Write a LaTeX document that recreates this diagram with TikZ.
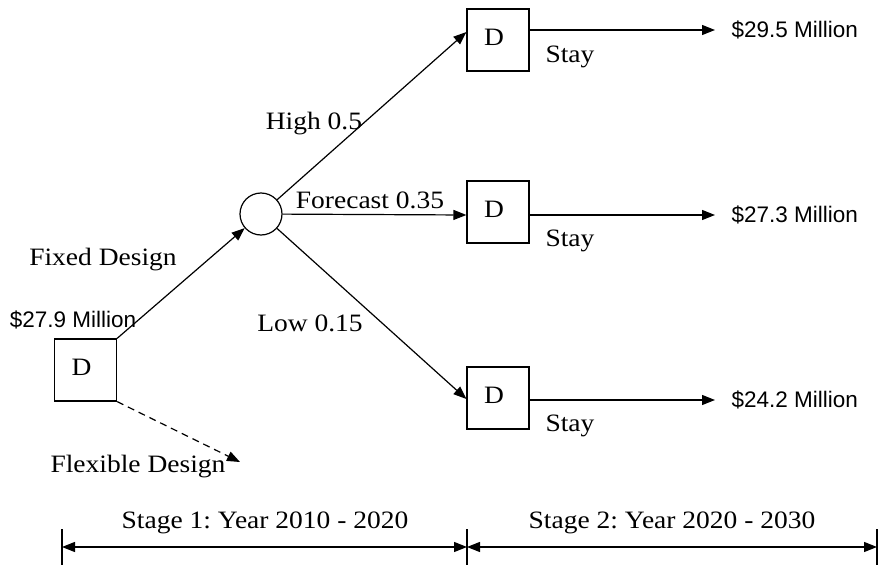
\documentclass[tikz,border=0pt]{standalone}
\usepackage{fontspec}
\setmainfont[FakeStretch=1.1]{Liberation Serif}
\newfontfamily\arialf{Liberation Sans}
\usetikzlibrary{arrows.meta}
\frenchspacing
\begin{document}
\begin{tikzpicture}[x=1pt,y=-1pt,
  line width=1.2pt,
  tip/.style={-{Triangle[length=13pt,width=10pt]}},
  dbox/.style={draw,minimum width=62pt,minimum height=62pt,inner sep=0pt,
    label={[lbl,xshift=-4pt,yshift=3pt]center:D}},
  chance/.style={draw,circle,minimum size=42pt,inner sep=0pt},
  lbl/.style={inner sep=0pt,font=\fontsize{25}{30}\selectfont},
  val/.style={inner sep=0pt,inner xsep=16pt,anchor=west,font=\arialf\fontsize{22.5}{27}\selectfont}]
\useasboundingbox (0,0) rectangle (879,586);
% nodes
\node[dbox] (d0) at (85.5,370) {};
\node[chance] (c) at (261,214) {};
\node[dbox] (t1) at (498,40) {};
\node[dbox] (t2) at (498,212) {};
\node[dbox] (t3) at (498,398) {};
\node[val] (v1) at (715,30) {\$29.5 Million};
\node[val] (v2) at (715,215) {\$27.3 Million};
\node[val] (v3) at (715,400) {\$24.2 Million};
\coordinate (flex) at (240,462);
% labels
\node[val,anchor=center,inner xsep=0pt] (m0) at (73,320) {\$27.9 Million};
\node[lbl] (lfix) at (103,260) {Fixed Design};
\node[lbl] (lflex) at (138,467) {Flexible Design};
\node[lbl] (lhigh) at (314,124) {High 0.5};
\node[lbl] (lfor) at (370,200) {Forecast 0.35};
\node[lbl] (llow) at (310,323) {Low 0.15};
\node[lbl] (s1) at (570,57) {Stay};
\node[lbl] (s2) at (570,241) {Stay};
\node[lbl] (s3) at (570,426) {Stay};
% connectors
\draw[tip] (d0.north east) -- (c);
\draw[tip,dashed,dash pattern=on 7pt off 5pt] (d0.south east) -- (flex);
\draw[tip] (c) -- ([yshift=8pt]t1.west);
\draw[tip] (c) -- (t2.west |- v2.west);
\draw[tip] (c) -- ([yshift=-1pt]t3.west);
\draw[tip] (t1.east |- v1.west) -- (v1.west);
\draw[tip] (t2.east |- v2.west) -- (v2.west);
\draw[tip] (t3.east |- v3.west) -- (v3.west);
% timeline
\coordinate (a0) at (62,547);
\coordinate (a1) at (467,547);
\coordinate (a2) at (877,547);
\foreach \p in {a0,a1,a2}{\draw ([yshift=18pt]\p) -- ([yshift=-18pt]\p);}
\draw[{Triangle[length=13pt,width=10pt]}-{Triangle[length=13pt,width=10pt]}] (a0) -- (a1);
\draw[{Triangle[length=13pt,width=10pt]}-{Triangle[length=13pt,width=10pt]}] (a1) -- (a2);
\node[lbl] (st1) at (265,523) {Stage 1: Year 2010 - 2020};
\node[lbl] (st2) at (672,523) {Stage 2: Year 2020 - 2030};
\end{tikzpicture}
\end{document}
